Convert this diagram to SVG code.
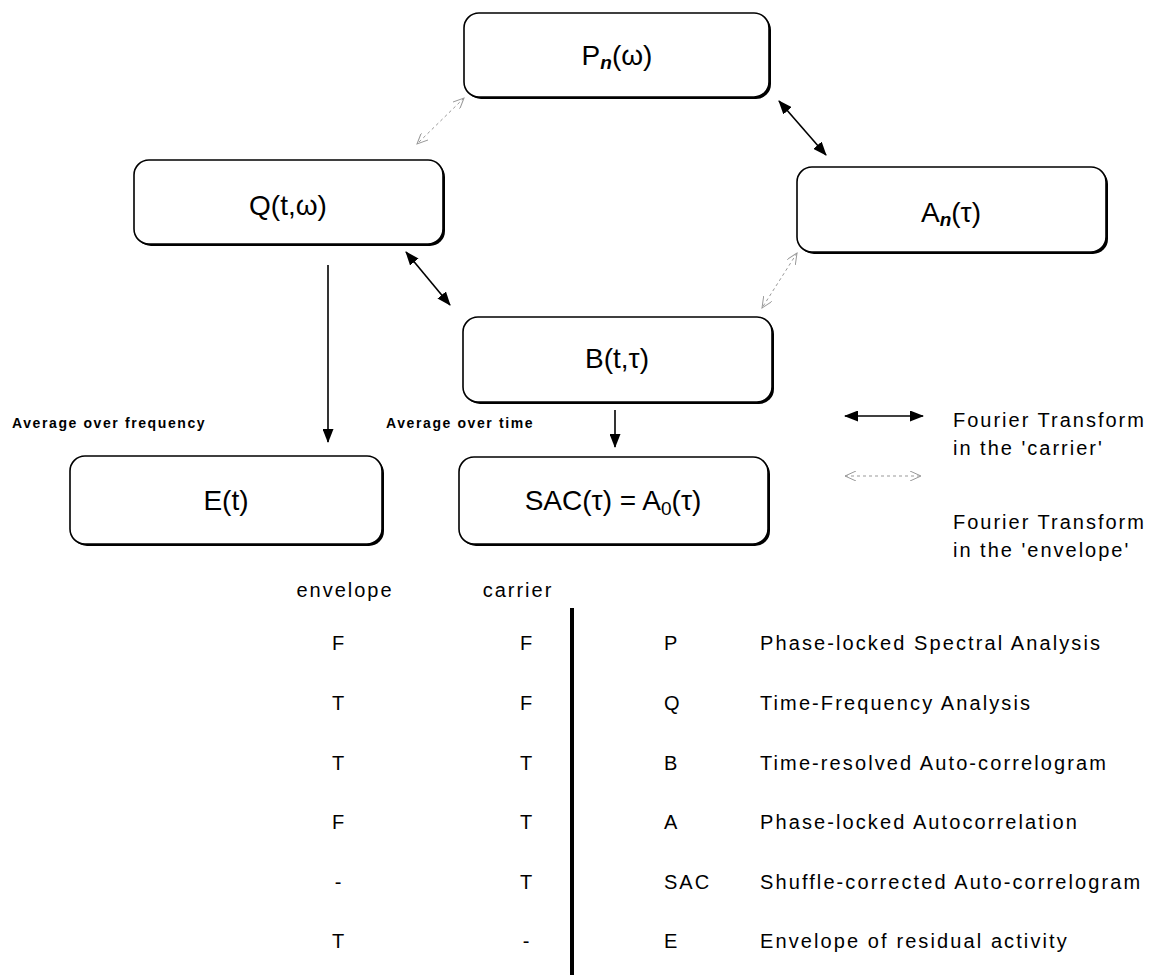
<svg xmlns="http://www.w3.org/2000/svg" width="1150" height="978" viewBox="0 0 1150 978">
<style>
.box{fill:#fff;stroke:#000;stroke-width:1.6}
.sh{fill:#000}
.lbl{font-family:"Liberation Sans",Arial,sans-serif;font-size:28px;fill:#000;text-anchor:middle}
.sub{font-size:19px;font-weight:bold;font-style:italic}
.sub0{font-size:19px}
.avg{font-family:"Liberation Sans",Arial,sans-serif;font-size:14px;font-weight:bold;letter-spacing:1.6px;fill:#000}
.txt{font-family:"Liberation Sans",Arial,sans-serif;font-size:20px;letter-spacing:2px;fill:#000}
.desc{letter-spacing:2.1px}
.mid{text-anchor:middle}
.solid{stroke:#000;stroke-width:1.6;fill:none}
.dash{stroke:#999;stroke-width:1;stroke-dasharray:3 3;fill:none}
</style>
<defs>
<marker id="ah" viewBox="0 0 14 11" refX="13" refY="5.5" markerWidth="14" markerHeight="11" markerUnits="userSpaceOnUse" orient="auto-start-reverse">
<path d="M0,0 L14,5.5 L0,11 Z" fill="#000"/>
</marker>
<marker id="oh" viewBox="0 0 12 10" refX="11" refY="5" markerWidth="12" markerHeight="10" markerUnits="userSpaceOnUse" orient="auto-start-reverse">
<path d="M0,0 L11,5 L0,10" fill="none" stroke="#999" stroke-width="1"/>
</marker>
</defs>
<rect width="1150" height="978" fill="#fff"/>

<g id="node-P">
<rect class="sh" x="466" y="15" width="305" height="84" rx="15"/>
<rect class="box" x="464" y="13" width="305" height="84" rx="15"/>
<text class="lbl" x="617" y="65">P<tspan class="sub" dy="4">n</tspan><tspan dy="-4">(ω)</tspan></text>
</g>
<g id="node-Q">
<rect class="sh" x="136" y="162" width="309" height="84" rx="15"/>
<rect class="box" x="134" y="160" width="309" height="84" rx="15"/>
<text class="lbl" x="288" y="215">Q(t,ω)</text>
</g>
<g id="node-A">
<rect class="sh" x="799" y="169" width="309" height="85" rx="15"/>
<rect class="box" x="797" y="167" width="309" height="85" rx="15"/>
<text class="lbl" x="951" y="222">A<tspan class="sub" dy="4">n</tspan><tspan dy="-4">(τ)</tspan></text>
</g>
<g id="node-B">
<rect class="sh" x="465" y="319" width="309" height="85" rx="15"/>
<rect class="box" x="463" y="317" width="309" height="85" rx="15"/>
<text class="lbl" x="617" y="368">B(t,τ)</text>
</g>
<g id="node-E">
<rect class="sh" x="72" y="458" width="312" height="88" rx="15"/>
<rect class="box" x="70" y="456" width="312" height="88" rx="15"/>
<text class="lbl" x="226" y="510">E(t)</text>
</g>
<g id="node-SAC">
<rect class="sh" x="461" y="459" width="309" height="87" rx="15"/>
<rect class="box" x="459" y="457" width="309" height="87" rx="15"/>
<text class="lbl" x="613" y="510">SAC(τ) = A<tspan class="sub0" dy="5">0</tspan><tspan dy="-5">(τ)</tspan></text>
</g>

<g id="connectors">
<line class="solid" x1="779" y1="101" x2="826" y2="155" marker-start="url(#ah)" marker-end="url(#ah)"/>
<line class="solid" x1="406" y1="252" x2="450" y2="305" marker-start="url(#ah)" marker-end="url(#ah)"/>
<line class="solid" x1="328" y1="265" x2="328" y2="442" marker-end="url(#ah)"/>
<line class="solid" x1="615" y1="410" x2="615" y2="447" marker-end="url(#ah)"/>
<line class="dash" x1="464" y1="98" x2="417" y2="144" marker-start="url(#oh)" marker-end="url(#oh)"/>
<line class="dash" x1="797" y1="253" x2="762" y2="308" marker-start="url(#oh)" marker-end="url(#oh)"/>
</g>

<g id="labels">
<text class="avg" x="12" y="428">Average over frequency</text>
<text class="avg" x="386" y="428">Average over time</text>
</g>

<g id="legend">
<line class="solid" x1="845" y1="416" x2="923" y2="416" marker-start="url(#ah)" marker-end="url(#ah)"/>
<line class="dash" x1="845" y1="476" x2="921" y2="476" marker-start="url(#oh)" marker-end="url(#oh)"/>
<text class="txt" x="953" y="427">Fourier Transform</text>
<text class="txt" x="953" y="455">in the 'carrier'</text>
<text class="txt" x="953" y="529">Fourier Transform</text>
<text class="txt" x="953" y="557">in the 'envelope'</text>
</g>

<g id="table">
<rect x="570" y="608" width="4" height="367" fill="#000"/>
<text class="txt mid" x="345" y="597">envelope</text>
<text class="txt mid" x="518" y="597">carrier</text>
<g class="txt mid">
<text x="339" y="650">F</text><text x="527" y="650">F</text>
<text x="339" y="710">T</text><text x="527" y="710">F</text>
<text x="339" y="770">T</text><text x="527" y="770">T</text>
<text x="339" y="829">F</text><text x="527" y="829">T</text>
<text x="339" y="889">-</text><text x="527" y="889">T</text>
<text x="339" y="948">T</text><text x="527" y="948">-</text>
</g>
<g class="txt">
<text x="664" y="650">P</text><text class="desc" x="760" y="650">Phase-locked Spectral Analysis</text>
<text x="664" y="710">Q</text><text class="desc" x="760" y="710">Time-Frequency Analysis</text>
<text x="664" y="770">B</text><text class="desc" x="760" y="770">Time-resolved Auto-correlogram</text>
<text x="664" y="829">A</text><text class="desc" x="760" y="829">Phase-locked Autocorrelation</text>
<text x="664" y="889">SAC</text><text class="desc" x="760" y="889">Shuffle-corrected Auto-correlogram</text>
<text x="664" y="948">E</text><text class="desc" x="760" y="948">Envelope of residual activity</text>
</g>
</g>
</svg>
